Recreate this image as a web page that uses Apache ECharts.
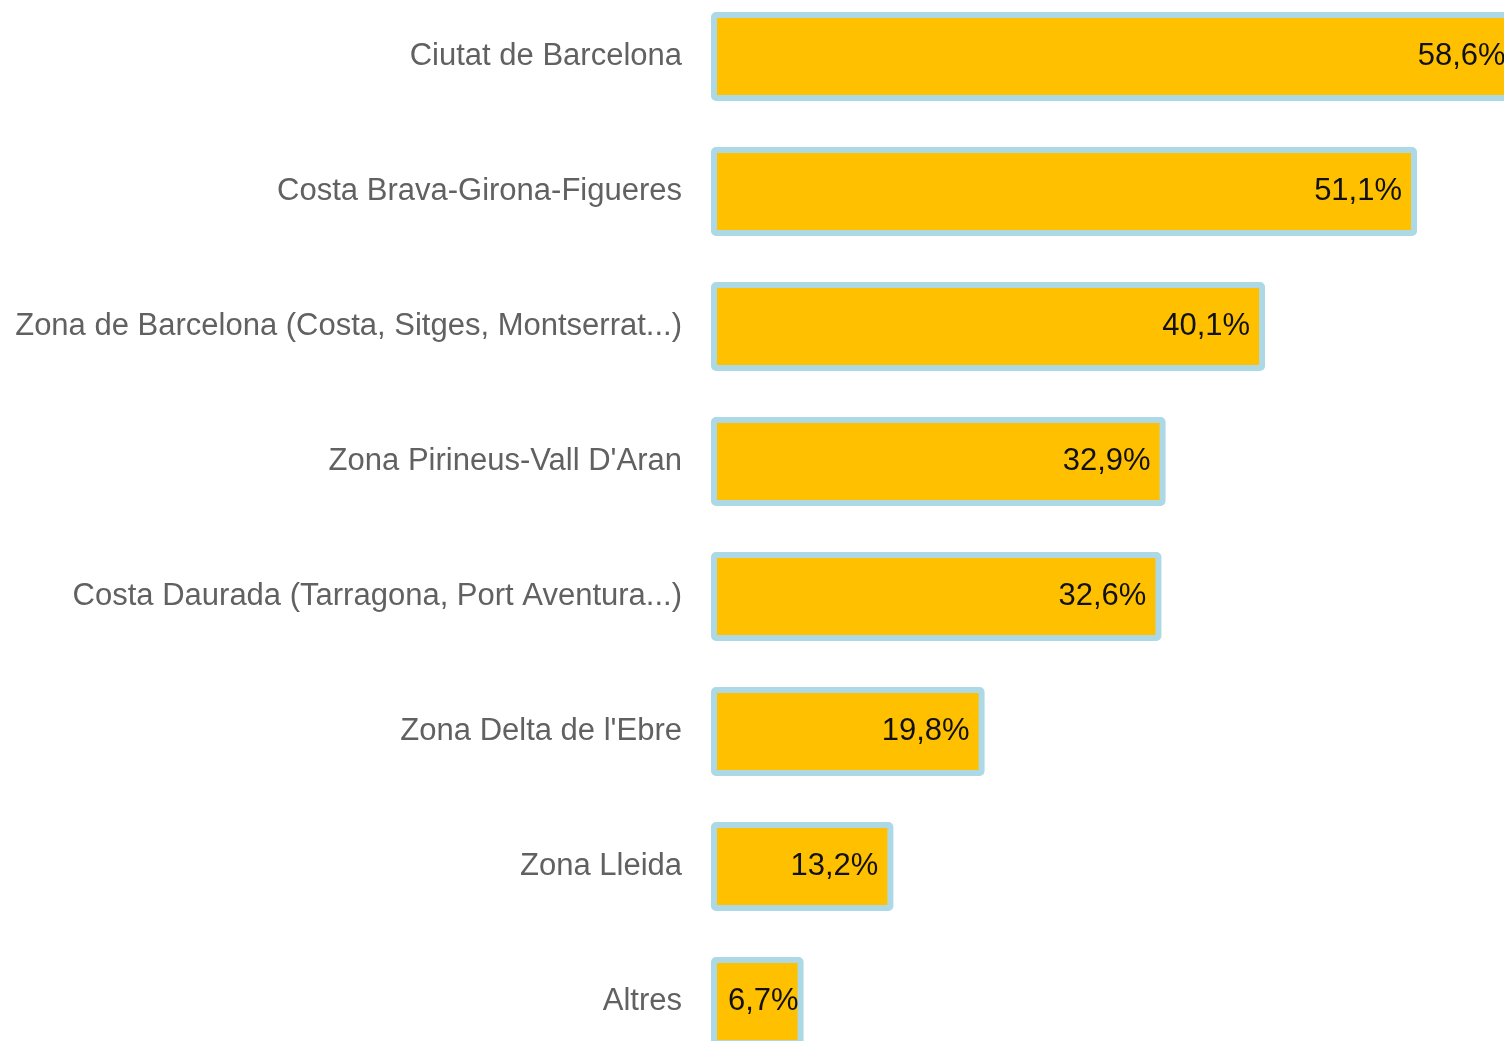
<!DOCTYPE html>
<html lang="ca">
<head>
    <meta charset="UTF-8">
    <title>Zones visitades</title>
    <script src="https://cdn.jsdelivr.net/npm/echarts@6/dist/echarts.min.js"></script>
    <style>
        html, body { margin: 0; padding: 0; background: #fff; }
        #chart { width: 1504px; height: 1041px; }
    </style>
</head>
<body>
    <div id="chart"></div>
<script>
// dades
var zones = [
    'Ciutat de Barcelona',
    'Costa Brava-Girona-Figueres',
    'Zona de Barcelona (Costa, Sitges, Montserrat...)',
    'Zona Pirineus-Vall D\'Aran',
    'Costa Daurada (Tarragona, Port Aventura...)',
    'Zona Delta de l\'Ebre',
    'Zona Lleida',
    'Altres'
];
var percentatges = [58.6, 51.1, 40.1, 32.9, 32.6, 19.8, 13.2, 6.7];

// la barra petita porta l'etiqueta mes a prop de l'extrem
var barData = percentatges.map(function (v) {
    if (v < 10) {
        return { value: v, label: { distance: 5 } };
    }
    return v;
});

var myChart = echarts.init(document.getElementById('chart'));

var option = {
    animation: false,
    grid: {
        left: 711,
        right: -36,
        top: -11,
        bottom: -28,
        outerBoundsMode: 'none',
        containLabel: false
    },
    xAxis: {
        type: 'value',
        min: 0,
        max: 60,
        show: false
    },
    yAxis: {
        type: 'category',
        data: zones,
        inverse: true,
        axisLine: { show: false },
        axisTick: { show: false },
        axisLabel: {
            margin: 29,
            fontFamily: 'Liberation Sans',
            fontSize: 31,
            color: '#616161',
            padding: [5, 0, 0, 0]
        }
    },
    series: [{
        type: 'bar',
        data: barData,
        barWidth: 89,
        clip: false,
        itemStyle: {
            color: '#ffc000',
            borderColor: '#add8e6',
            borderWidth: 6,
            borderRadius: 2
        },
        label: {
            show: true,
            position: 'insideRight',
            distance: 15,
            fontFamily: 'Liberation Sans',
            fontSize: 31,
            color: '#111',
            padding: [5, 0, 0, 0],
            formatter: function (p) {
                return p.value.toFixed(1).replace('.', ',') + '%';
            }
        }
    }]
};
myChart.setOption(option);
</script>
</body>
</html>
